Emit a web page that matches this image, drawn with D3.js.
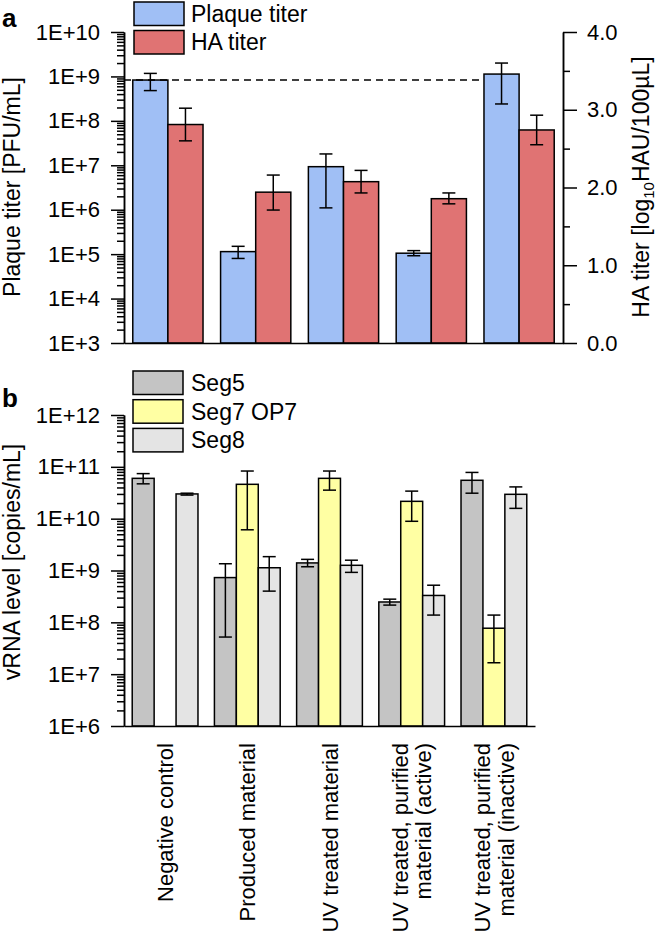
<!DOCTYPE html>
<html>
<head>
<meta charset="utf-8">
<script src="https://cdn.jsdelivr.net/npm/d3@7"></script>
<style>
  html, body { margin: 0; padding: 0; background: #fff; }
  svg { display: block; font-family: "Liberation Sans", Arial, sans-serif; }
</style>
</head>
<body>
<svg id="chart" width="657" height="941"></svg>
<script>
// ---------------- data ----------------
const categories = [
  "Negative control",
  "Produced material",
  "UV treated material",
  "UV treated, purified material (active)",
  "UV treated, purified material (inactive)"
];
const categoryLines = [
  ["Negative control"],
  ["Produced material"],
  ["UV treated material"],
  ["UV treated, purified", "material (active)"],
  ["UV treated, purified", "material (inactive)"]
];

// panel a
const plaqueTiter = [8.3e8, 1.14e5, 9.3e6, 1.05e5, 1.13e9];
const plaqueLow   = [4.8e8, 8.0e4, 1.1e6, 9.2e4, 2.4e8];
const plaqueHigh  = [1.17e9, 1.5e5, 1.8e7, 1.2e5, 2.0e9];
const haTiter = [2.81, 1.94, 2.075, 1.856, 2.74];
const haLow   = [2.60, 1.71, 1.93, 1.79, 2.55];
const haHigh  = [3.02, 2.16, 2.22, 1.93, 2.93];

// panel b
const seg5     = [6.0e10, 7.3e8, 1.4e9, 2.47e8, 5.5e10];
const seg5Low  = [4.7e10, 5.2e7, 1.18e9, 2.15e8, 3.1e10];
const seg5High = [7.4e10, 1.35e9, 1.64e9, 2.8e8, 7.8e10];
const seg7     = [null, 4.6e10, 6.0e10, 2.16e10, 7.7e7];
const seg7Low  = [null, 6.1e9, 3.55e10, 8.9e9, 1.66e7];
const seg7High = [null, 8.3e10, 8.3e10, 3.4e10, 1.38e8];
const seg8     = [3.0e10, 1.13e9, 1.26e9, 3.3e8, 2.95e10];
const seg8Low  = [2.85e10, 4.0e8, 9.2e8, 1.38e8, 1.58e10];
const seg8High = [3.1e10, 1.85e9, 1.58e9, 5.2e8, 4.1e10];

// tick labels
const plaqueTicks = [1e3, 1e4, 1e5, 1e6, 1e7, 1e8, 1e9, 1e10];
const plaqueTickLabels = ["1E+3", "1E+4", "1E+5", "1E+6", "1E+7", "1E+8", "1E+9", "1E+10"];
const haTicks = [0, 1, 2, 3, 4];
const haTickLabels = ["0.0", "1.0", "2.0", "3.0", "4.0"];
const haMinorTicks = [0.5, 1.5, 2.5, 3.5];
const vrnaTicks = [1e6, 1e7, 1e8, 1e9, 1e10, 1e11, 1e12];
const vrnaTickLabels = ["1E+6", "1E+7", "1E+8", "1E+9", "1E+10", "1E+11", "1E+12"];

const seriesA = ["Plaque titer", "HA titer"];
const seriesB = ["Seg5", "Seg7 OP7", "Seg8"];
const colorsA = ["#a0bff5", "#e07373"];
const colorsB = ["#c4c4c4", "#ffffa3", "#e4e4e4"];

// ---------------- drawing ----------------
const svg = d3.select("#chart");
const FONT_TICK = 22, FONT_TITLE = 23, FONT_CAT = 22;

function minorLog(lo, hi) {
  const out = [];
  for (let e = Math.log10(lo); e < Math.log10(hi); e++) {
    for (let m = 2; m <= 9; m++) out.push(m * Math.pow(10, e));
  }
  return out;
}
function styleAxis(g) {
  g.selectAll("path.domain").attr("stroke", "#000").attr("stroke-width", 1.5);
  g.selectAll(".tick line").attr("stroke", "#000").attr("stroke-width", 1.5);
  g.selectAll(".tick text").attr("fill", "#000").attr("font-size", FONT_TICK)
    .attr("font-family", "Liberation Sans, Arial, sans-serif");
}
function errBar(g, x, y1, y2, w) {
  g.append("line").attr("x1", x).attr("x2", x).attr("y1", y1).attr("y2", y2);
  g.append("line").attr("x1", x - w / 2).attr("x2", x + w / 2).attr("y1", y1).attr("y2", y1);
  g.append("line").attr("x1", x - w / 2).attr("x2", x + w / 2).attr("y1", y2).attr("y2", y2);
}

// ===== Panel a =====
const aTop = 32, aBot = 343, aLeft = 124, aRight = 563;
const xA = d3.scaleBand().domain(d3.range(categories.length)).range([aLeft, aRight])
  .paddingInner(0.2).paddingOuter(0.1);
const xAsub = d3.scaleBand().domain(seriesA).range([0, xA.bandwidth()]);
const yPlaque = d3.scaleLog().domain([1e3, 1e10]).range([aBot, aTop]);
const yHA = d3.scaleLinear().domain([0, 4]).range([aBot, aTop]);

const barsA = svg.append("g");
categories.forEach((c, i) => {
  const x0 = xA(i);
  // plaque bar
  barsA.append("rect")
    .attr("x", x0 + xAsub("Plaque titer")).attr("width", xAsub.bandwidth())
    .attr("y", yPlaque(plaqueTiter[i])).attr("height", aBot - yPlaque(plaqueTiter[i]))
    .attr("fill", colorsA[0]).attr("stroke", "#000").attr("stroke-width", 1.5);
  // HA bar
  barsA.append("rect")
    .attr("x", x0 + xAsub("HA titer")).attr("width", xAsub.bandwidth())
    .attr("y", yHA(haTiter[i])).attr("height", aBot - yHA(haTiter[i]))
    .attr("fill", colorsA[1]).attr("stroke", "#000").attr("stroke-width", 1.5);
});
const errA = svg.append("g").attr("stroke", "#000").attr("stroke-width", 1.5);
categories.forEach((c, i) => {
  const cx1 = xA(i) + xAsub("Plaque titer") + xAsub.bandwidth() / 2;
  errBar(errA, cx1, yPlaque(plaqueHigh[i]), yPlaque(plaqueLow[i]), 13);
  const cx2 = xA(i) + xAsub("HA titer") + xAsub.bandwidth() / 2;
  errBar(errA, cx2, yHA(haHigh[i]), yHA(haLow[i]), 13);
});
// dashed reference line at negative control plaque titer
svg.append("line")
  .attr("x1", aLeft).attr("x2", xA(4) + xAsub("Plaque titer"))
  .attr("y1", yPlaque(plaqueTiter[0])).attr("y2", yPlaque(plaqueTiter[0]))
  .attr("stroke", "#000").attr("stroke-width", 1.5).attr("stroke-dasharray", "7,5");

// axes panel a
const axA_left = svg.append("g").attr("transform", `translate(${aLeft},0)`)
  .call(d3.axisLeft(yPlaque).tickValues(plaqueTicks).tickSize(13).tickSizeOuter(0).tickPadding(11)
    .tickFormat((d, i) => plaqueTickLabels[i]));
styleAxis(axA_left);
const axA_leftMinor = svg.append("g").attr("transform", `translate(${aLeft},0)`)
  .call(d3.axisLeft(yPlaque).tickValues(minorLog(1e3, 1e10)).tickSize(7).tickSizeOuter(0).tickFormat(""));
styleAxis(axA_leftMinor);
const axA_right = svg.append("g").attr("transform", `translate(${aRight},0)`)
  .call(d3.axisRight(yHA).tickValues(haTicks).tickSize(14).tickSizeOuter(0).tickPadding(10)
    .tickFormat((d, i) => haTickLabels[i]));
styleAxis(axA_right);
const axA_rightMinor = svg.append("g").attr("transform", `translate(${aRight},0)`)
  .call(d3.axisRight(yHA).tickValues(haMinorTicks).tickSize(7).tickSizeOuter(0).tickFormat(""));
styleAxis(axA_rightMinor);
const axA_bottom = svg.append("g").attr("transform", `translate(0,${aBot})`)
  .call(d3.axisBottom(xA).tickValues([]).tickSizeOuter(0));
styleAxis(axA_bottom);

// titles panel a
svg.append("text").attr("transform", `translate(20,187) rotate(-90)`)
  .attr("text-anchor", "middle").attr("font-size", FONT_TITLE).text("Plaque titer [PFU/mL]");
const haLabel = svg.append("text").attr("transform", `translate(649,187) rotate(-90)`)
  .attr("text-anchor", "middle").attr("font-size", FONT_TITLE);
haLabel.append("tspan").text("HA titer [log");
haLabel.append("tspan").attr("font-size", 15).attr("dy", 5).text("10");
haLabel.append("tspan").attr("dy", -5).text("HAU/100µL]");
svg.append("text").attr("x", 2).attr("y", 27).attr("font-size", 26).attr("font-weight", "bold").text("a");

// legend panel a
const legA = svg.append("g");
seriesA.forEach((s, i) => {
  const y0 = 2 + i * 28.5;
  legA.append("rect").attr("x", 134).attr("y", y0).attr("width", 50).attr("height", 23.5)
    .attr("fill", colorsA[i]).attr("stroke", "#000").attr("stroke-width", 1.5);
  legA.append("text").attr("x", 191).attr("y", y0 + 19.5).attr("font-size", FONT_TITLE).text(s);
});

// ===== Panel b =====
const bTop = 415, bBot = 726, bLeft = 124, bRight = 535;
const xB = d3.scaleBand().domain(d3.range(categories.length)).range([bLeft, bRight])
  .paddingInner(0.2).paddingOuter(0.1);
const xBsub = d3.scaleBand().domain(seriesB).range([0, xB.bandwidth()]);
const yV = d3.scaleLog().domain([1e6, 1e12]).range([bBot, bTop]);
const valsB = [seg5, seg7, seg8], lowB = [seg5Low, seg7Low, seg8Low], highB = [seg5High, seg7High, seg8High];

const barsB = svg.append("g");
const errB = svg.append("g").attr("stroke", "#000").attr("stroke-width", 1.5);
categories.forEach((c, i) => {
  seriesB.forEach((s, k) => {
    const v = valsB[k][i];
    if (v == null) return;
    const x = xB(i) + xBsub(s);
    barsB.append("rect").attr("x", x).attr("width", xBsub.bandwidth())
      .attr("y", yV(v)).attr("height", bBot - yV(v))
      .attr("fill", colorsB[k]).attr("stroke", "#000").attr("stroke-width", 1.5);
  });
});
categories.forEach((c, i) => {
  seriesB.forEach((s, k) => {
    const v = valsB[k][i];
    if (v == null) return;
    const cx = xB(i) + xBsub(s) + xBsub.bandwidth() / 2;
    errBar(errB, cx, yV(highB[k][i]), yV(lowB[k][i]), 13);
  });
});

const axB_left = svg.append("g").attr("transform", `translate(${bLeft},0)`)
  .call(d3.axisLeft(yV).tickValues(vrnaTicks).tickSize(13).tickSizeOuter(0).tickPadding(11)
    .tickFormat((d, i) => vrnaTickLabels[i]));
styleAxis(axB_left);
const axB_leftMinor = svg.append("g").attr("transform", `translate(${bLeft},0)`)
  .call(d3.axisLeft(yV).tickValues(minorLog(1e6, 1e12)).tickSize(7).tickSizeOuter(0).tickFormat(""));
styleAxis(axB_leftMinor);
const axB_bottom = svg.append("g").attr("transform", `translate(0,${bBot})`)
  .call(d3.axisBottom(xB).tickValues([]).tickSizeOuter(0));
styleAxis(axB_bottom);

svg.append("text").attr("transform", `translate(20,562) rotate(-90)`)
  .attr("text-anchor", "middle").attr("font-size", FONT_TITLE).text("vRNA level [copies/mL]");
svg.append("text").attr("x", 2).attr("y", 407).attr("font-size", 26).attr("font-weight", "bold").text("b");

const legB = svg.append("g");
seriesB.forEach((s, i) => {
  const y0 = 371 + i * 28.7;
  legB.append("rect").attr("x", 133).attr("y", y0).attr("width", 50).attr("height", 23.5)
    .attr("fill", colorsB[i]).attr("stroke", "#000").attr("stroke-width", 1.5);
  legB.append("text").attr("x", 191).attr("y", y0 + 20).attr("font-size", FONT_TITLE).text(s);
});

// category labels
const catG = svg.append("g");
categoryLines.forEach((lines, i) => {
  const c = xB(i) + xB.bandwidth() / 2;
  const n = lines.length;
  lines.forEach((ln, j) => {
    const bx = c + 8 + (j - (n - 1) / 2) * 23.5;
    catG.append("text").attr("transform", `translate(${bx},743) rotate(-90)`)
      .attr("text-anchor", "end").attr("font-size", FONT_CAT).text(ln);
  });
});
</script>
</body>
</html>
